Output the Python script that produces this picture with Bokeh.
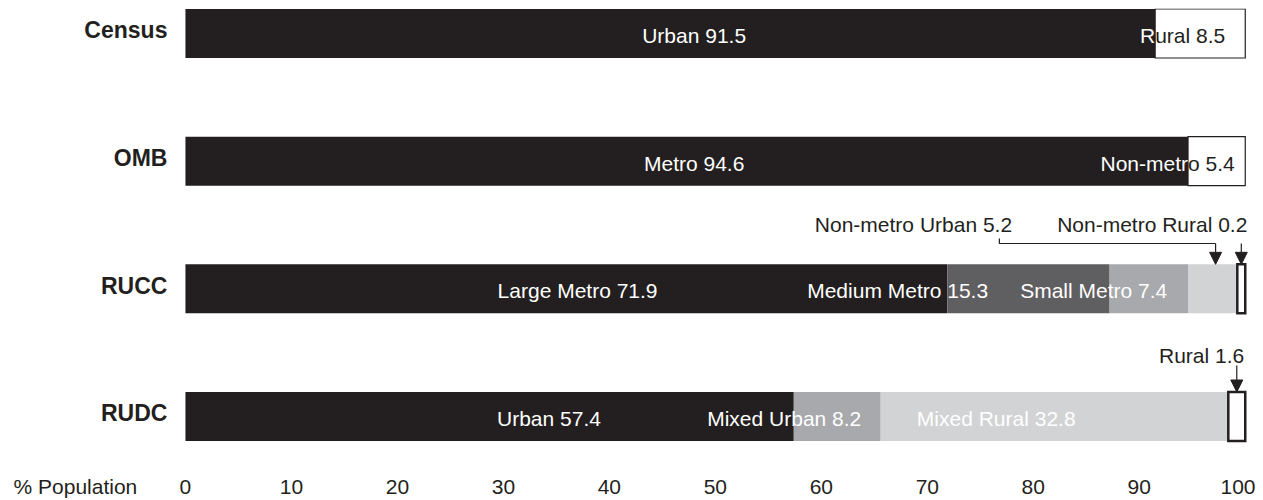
from bokeh.plotting import figure
from bokeh.models import Range1d, FixedTicker, ColumnDataSource, Arrow, NormalHead
from bokeh.core.properties import value
from bokeh.embed import file_html
from bokeh.resources import INLINE

# ---------------- data ----------------
categories = ["Census", "OMB", "RUCC", "RUDC"]

census_names = ["Urban", "Rural"]
census_values = [91.5, 8.5]

omb_names = ["Metro", "Non-metro"]
omb_values = [94.6, 5.4]

rucc_names = ["Large Metro", "Medium Metro", "Small Metro", "Non-metro Urban", "Non-metro Rural"]
rucc_values = [71.9, 15.3, 7.4, 5.2, 0.2]

rudc_names = ["Urban", "Mixed Urban", "Mixed Rural", "Rural"]
rudc_values = [57.4, 8.2, 32.8, 1.6]

x_ticks = [0, 10, 20, 30, 40, 50, 60, 70, 80, 90, 100]
x_title = "% Population"

# ---------------- styling / layout ----------------
DARK = "#231f20"
FONT = "Liberation Sans"
FS = "21px"
X_TITLE_AT = -10.38     # where the axis title sits along the tick row
MIN_BOX_W = 0.75        # minimum drawn width of the outlined (tiny) boxes

series = {
    "Census": (census_names, census_values),
    "OMB": (omb_names, omb_values),
    "RUCC": (rucc_names, rucc_values),
    "RUDC": (rudc_names, rudc_values),
}
seg_colors = {
    "Census": [DARK, "#ffffff"],
    "OMB": [DARK, "#ffffff"],
    "RUCC": [DARK, "#5f5e60", "#a7a9ac", "#d1d3d4", "#ffffff"],
    "RUDC": [DARK, "#a7a9ac", "#d1d3d4", "#ffffff"],
}
outlined = {("Census", 1): 1.2, ("OMB", 1): 1.2, ("RUCC", 4): 2.5, ("RUDC", 3): 2.5}
label_at = {
    ("Census", 0): 48.0, ("OMB", 0): 48.0,
    ("RUCC", 0): 37.0, ("RUCC", 1): 67.2, ("RUCC", 2): 85.7,
    ("RUDC", 0): 34.3, ("RUDC", 1): 56.5, ("RUDC", 2): 76.5,
}
split_at = {("Census", 1): 1, ("OMB", 1): 8}
callouts = {("RUCC", 3): (78.0, 0.504), ("RUCC", 4): (100.2, 0.504), ("RUDC", 3): (99.9, 0.478)}
BAR_H = 0.384

ypos = {c: len(categories) - 1 - i for i, c in enumerate(categories)}

fill = dict(y=[], left=[], right=[], color=[])
box = dict(y=[], left=[], right=[], lw=[])
lab = dict(x=[], y=[], text=[])
lab_r = dict(x=[], y=[], text=[])
lab_l = dict(x=[], y=[], text=[])
seg_geom = {}

for c in categories:
    names, vals = series[c]
    start = 0.0
    for i, (n, v) in enumerate(zip(names, vals)):
        end = start + v
        if (c, i) in outlined:
            dleft = min(start, end - MIN_BOX_W)
            seg_geom[(c, i)] = (dleft, end)
            box["y"].append(ypos[c]); box["left"].append(dleft); box["right"].append(end)
            box["lw"].append(outlined[(c, i)])
        else:
            seg_geom[(c, i)] = (start, end)
            fill["y"].append(ypos[c]); fill["left"].append(start); fill["right"].append(end)
            fill["color"].append(seg_colors[c][i])
        txt = f"{n} {v}"
        if (c, i) in label_at:
            lab["x"].append(label_at[(c, i)]); lab["y"].append(ypos[c]); lab["text"].append(txt)
        elif (c, i) in split_at:
            k = split_at[(c, i)]
            lab_r["x"].append(start); lab_r["y"].append(ypos[c]); lab_r["text"].append(txt[:k])
            lab_l["x"].append(start); lab_l["y"].append(ypos[c]); lab_l["text"].append(txt[k:])
        start = end

p = figure(frame_width=1249, frame_height=444,
           x_range=Range1d(-17.45, 100.4), y_range=Range1d(-0.282, 3.1958),
           output_backend="svg", toolbar_location=None, y_axis_location=None,
           min_border_left=0, min_border_right=6, min_border_top=8, min_border_bottom=0)
p.outline_line_color = None
p.grid.visible = False
p.background_fill_color = "#ffffff"

p.hbar(y="y", left="left", right="right", height=BAR_H, fill_color="color",
       line_color=None, source=ColumnDataSource(fill))
p.hbar(y="y", left="left", right="right", height=BAR_H, fill_color="#ffffff",
       line_color=DARK, line_width="lw", line_join="miter", source=ColumnDataSource(box))

common = dict(text_font=value(FONT), text_font_size=FS, text_baseline="middle", y_offset=2)
p.text(x="x", y="y", text="text", text_color="#ffffff", text_align="center",
       source=ColumnDataSource(lab), **common)
p.text(x="x", y="y", text="text", text_color="#ffffff", text_align="right",
       source=ColumnDataSource(lab_r), **common)
p.text(x="x", y="y", text="text", text_color=DARK, text_align="left",
       source=ColumnDataSource(lab_l), **common)

# category labels, right-aligned just left of the bars' zero
p.text(x=[0] * len(categories), y=[ypos[c] for c in categories], text=categories,
       x_offset=-18, y_offset=-3, text_align="right", text_baseline="middle",
       text_font=value(FONT), text_font_size="23px", text_font_style="bold", text_color=DARK)

# callouts
RUCC_LINE = 1.3551
RUDC_LINE = 0.3995
for (c, i), (tx, dy) in callouts.items():
    names, vals = series[c]
    s, e = seg_geom[(c, i)]
    cx = (s + e) / 2
    y0 = ypos[c]
    p.text(x=[tx], y=[y0 + dy], text=[f"{names[i]} {vals[i]}"], text_color=DARK,
           text_align="right", text_baseline="middle",
           text_font=value(FONT), text_font_size=FS)
    ystart = RUCC_LINE if c == "RUCC" else RUDC_LINE
    p.add_layout(Arrow(end=NormalHead(size=12, fill_color=DARK, line_color=DARK, line_width=1),
                       x_start=cx, y_start=ystart, x_end=cx, y_end=y0 + BAR_H / 2,
                       line_color=DARK, line_width=1.2))

# bracket leader for Non-metro Urban
s, e = seg_geom[("RUCC", 3)]
p.line(x=[76.8, 76.8, (s + e) / 2], y=[1.3943, RUCC_LINE, RUCC_LINE], line_color=DARK, line_width=1.2)

# x axis (the axis title sits on the tick row, left of zero)
xa = p.xaxis[0]
xa.ticker = FixedTicker(ticks=[X_TITLE_AT] + x_ticks)
xa.major_label_overrides = {X_TITLE_AT: x_title}
xa.axis_line_color = None
xa.major_tick_line_color = None
xa.minor_tick_line_color = None
xa.major_tick_out = 0
xa.major_tick_in = 0
xa.major_label_standoff = 22
xa.major_label_text_font = FONT
xa.major_label_text_font_size = FS
xa.major_label_text_color = DARK

open("out.html", "w").write(file_html(p, INLINE))
